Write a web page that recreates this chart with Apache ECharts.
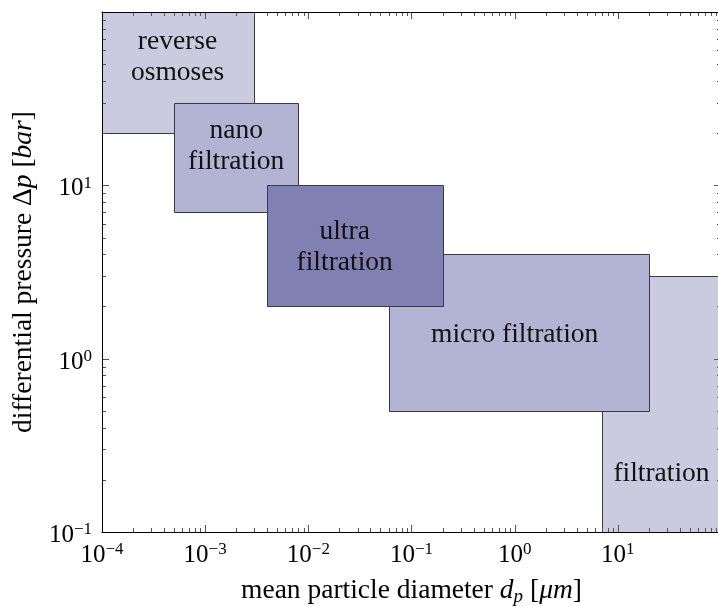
<!DOCTYPE html>
<html>
<head>
<meta charset="utf-8">
<script src="https://cdn.jsdelivr.net/npm/echarts@6/dist/echarts.min.js"></script>
<style>
  html, body { margin: 0; padding: 0; background: #fff; }
  #chart { width: 718px; height: 606px; }
</style>
</head>
<body>
<div id="chart"></div>
<script>
// Membrane separation processes: particle size range against operating pressure
const processNames  = ['reverse\nosmoses', 'nano\nfiltration', 'ultra\nfiltration', 'micro filtration', 'filtration'];
const diameterFrom  = [1e-4, 5e-4, 4e-3, 0.06, 7];      // µm
const diameterTo    = [3e-3, 8e-3, 0.2, 20, 100];       // µm
const pressureFrom  = [20, 7, 2, 0.5, 0.1];             // bar
const pressureTo    = [100, 30, 10, 4, 3];              // bar
const labelDiameter = [5.4e-4, 2.0e-3, 0.0225, 1.0, 26.5];
const labelPressure = [55, 16.8, 4.4, 1.37, 0.218];

const xRange = [1e-4, 1e2];
const yRange = [0.1, 100];
const xDecades = [-4, -3, -2, -1, 0, 1];
const yDecades = [-1, 0, 1];

// drawing styles
const fills  = ['#cbcbdf', '#b3b3d3', '#8080b2', '#b3b3d3', '#cbcbdf'];
const layers = [1, 2, 3, 2, 1];
const SERIF = '"Liberation Serif", "Times New Roman", serif';

const boxData = processNames.map((n, i) => [diameterFrom[i], diameterTo[i], pressureFrom[i], pressureTo[i]]);
const labelData = processNames.map((n, i) => [labelDiameter[i], labelPressure[i]]);

// logarithmic tick marks on all four sides: [x, y, axis (0 = x, 1 = y), major]
const tickData = [];
xDecades.forEach(e => {
  for (let k = 1; k <= 9; k++) tickData.push([k * Math.pow(10, e), yRange[0], 0, k === 1 ? 1 : 0]);
});
tickData.push([xRange[1], yRange[0], 0, 1]);
yDecades.forEach(e => {
  for (let k = 1; k <= 9; k++) tickData.push([xRange[0], k * Math.pow(10, e), 1, k === 1 ? 1 : 0]);
});
tickData.push([xRange[0], yRange[1], 1, 1]);

const crisp = v => Math.round(v) + 0.5;

function renderBox(params, api) {
  const i = params.dataIndex;
  const a = api.coord([api.value(0), api.value(3)]);
  const b = api.coord([api.value(1), api.value(2)]);
  const x0 = crisp(a[0]), y0 = crisp(a[1]), x1 = crisp(b[0]), y1 = crisp(b[1]);
  return {
    type: 'rect',
    z2: layers[i],
    shape: { x: x0, y: y0, width: x1 - x0, height: y1 - y0 },
    style: { fill: fills[i], stroke: '#3a3a44', lineWidth: 1 }
  };
}

function renderLabel(params, api) {
  const i = params.dataIndex;
  const p = api.coord([api.value(0), api.value(1)]);
  return {
    type: 'text',
    z2: 10,
    x: p[0], y: p[1],
    style: {
      text: processNames[i],
      fill: '#111',
      fontFamily: SERIF,
      fontSize: 27.5,
      lineHeight: 31,
      align: 'center',
      verticalAlign: 'middle'
    }
  };
}

function renderTick(params, api) {
  const cs = params.coordSys;
  const major = api.value(3) === 1;
  const len = major ? 7 : 4;
  const p = api.coord([api.value(0), api.value(1)]);
  const st = { stroke: '#555', lineWidth: 1 };
  if (api.value(2) === 0) {
    const x = crisp(p[0]);
    const yb = cs.y + cs.height, yt = cs.y;
    return { type: 'group', children: [
      { type: 'line', shape: { x1: x, y1: yb, x2: x, y2: yb - len }, style: st },
      { type: 'line', shape: { x1: x, y1: yt, x2: x, y2: yt + len }, style: st }
    ]};
  }
  const y = crisp(p[1]);
  const xl = cs.x, xr = cs.x + cs.width;
  return { type: 'group', children: [
    { type: 'line', shape: { x1: xl, y1: y, x2: xl + len, y2: y }, style: st },
    { type: 'line', shape: { x1: xr, y1: y, x2: xr - len, y2: y }, style: st }
  ]};
}

function powerLabel(v) {
  const e = Math.round(Math.log10(v));
  if (e >= 2) return '';
  return '{b|10}{e|' + String(e).replace('-', '\u2212') + '}';
}

const tickRich = {
  b: { fontFamily: SERIF, fontSize: 25, lineHeight: 28, color: '#000' },
  e: { fontFamily: SERIF, fontSize: 17, lineHeight: 14, verticalAlign: 'top', color: '#000' }
};
const titleRich = {
  n: { fontFamily: SERIF, fontSize: 27.5, lineHeight: 30, color: '#000' },
  i: { fontFamily: SERIF, fontSize: 27.5, lineHeight: 30, fontStyle: 'italic', color: '#000' },
  s: { fontFamily: SERIF, fontSize: 19, lineHeight: 17, fontStyle: 'italic', verticalAlign: 'bottom', color: '#000' }
};
const axisLineStyle = { show: true, lineStyle: { color: '#000', width: 1 } };

const chart = echarts.init(document.getElementById('chart'), null, { renderer: 'canvas' });
chart.setOption({
  animation: false,
  backgroundColor: '#fff',
  grid: { left: 102, top: 12, right: -3, bottom: 74, containLabel: false, outerBoundsMode: 'none' },
  xAxis: [{
    type: 'log', logBase: 10, min: xRange[0], max: xRange[1], z: 6,
    position: 'bottom',
    axisLine: axisLineStyle,
    axisTick: { show: false },
    splitLine: { show: false },
    axisLabel: { margin: 9, formatter: powerLabel, rich: tickRich, showMinLabel: true, showMaxLabel: true },
    name: '{n|mean particle diameter }{i|d}{s|p}{n| [}{i|\u03bcm}{n|]}',
    nameLocation: 'middle', nameGap: 44,
    nameTextStyle: { rich: titleRich }
  }, {
    type: 'log', logBase: 10, min: xRange[0], max: xRange[1], z: 6,
    position: 'top',
    axisLine: axisLineStyle, axisTick: { show: false }, axisLabel: { show: false }, splitLine: { show: false }
  }],
  yAxis: [{
    type: 'log', logBase: 10, min: yRange[0], max: yRange[1], z: 6,
    position: 'left',
    axisLine: axisLineStyle,
    axisTick: { show: false },
    splitLine: { show: false },
    axisLabel: { margin: 10, formatter: powerLabel, rich: tickRich, padding: [7, 0, 0, 0], showMinLabel: true, showMaxLabel: true },
    name: '{n|differential pressure }{n|\u0394}{i|p}{n| [}{i|bar}{n|]}',
    nameLocation: 'middle', nameGap: 55, nameRotate: 90,
    nameTextStyle: { rich: titleRich }
  }, {
    type: 'log', logBase: 10, min: yRange[0], max: yRange[1], z: 6,
    position: 'right',
    axisLine: axisLineStyle, axisTick: { show: false }, axisLabel: { show: false }, splitLine: { show: false }
  }],
  series: [{
    type: 'custom', name: 'processes', z: 2, clip: true,
    renderItem: renderBox,
    encode: { x: [0, 1], y: [2, 3] },
    data: boxData
  }, {
    type: 'custom', name: 'labels', z: 3, clip: true,
    renderItem: renderLabel,
    encode: { x: 0, y: 1 },
    data: labelData
  }, {
    type: 'custom', name: 'ticks', z: 4, clip: false,
    renderItem: renderTick,
    encode: { x: 0, y: 1 },
    data: tickData
  }]
});
</script>
</body>
</html>
